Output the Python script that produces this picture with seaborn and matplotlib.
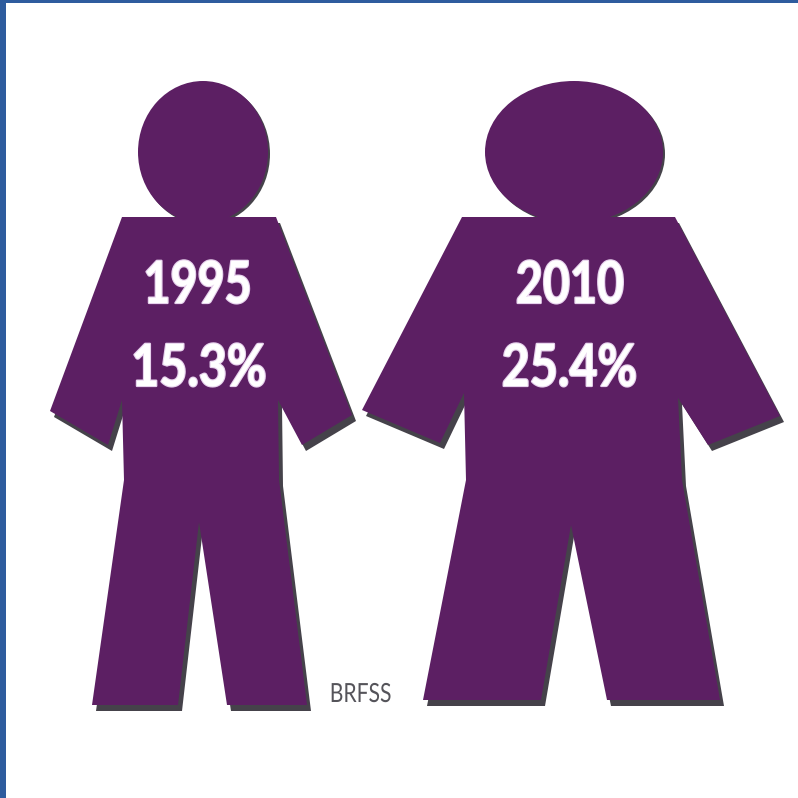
import matplotlib
matplotlib.use("Agg")
import matplotlib.pyplot as plt
import matplotlib.patheffects as pe
from matplotlib.colors import to_rgb
from matplotlib.patches import Ellipse, Rectangle
from matplotlib.transforms import Affine2D
import seaborn as sns

# Share of adults with obesity, by survey year
years = [1995, 2010]
rates = [15.3, 25.4]
source = "BRFSS"

# Silhouette outlines, in canvas pixels
slim_body = [(122, 217), (276, 217), (352, 415), (302, 445), (278, 400), (279, 480),
             (307, 705), (227, 705), (199, 522), (178, 705), (92, 705), (124, 480),
             (122, 400), (108, 445), (50, 411)]
wide_body = [(462, 217), (675, 217), (780, 416), (708, 445), (678, 398), (682, 480),
             (720, 700), (607, 700), (571, 525), (541, 700), (423, 700), (466, 480),
             (464, 393), (440, 443), (362, 410)]
bodies = [slim_body, wide_body]
heads = [(203, 152, 130, 142), (574, 152, 178, 142)]
year_x = [197.5, 570]
rate_x = [199, 569.5]

PURPLE = "#5c1f63"
SHADOW = "#45424a"
BORDER = "#2e5c9e"


class Condensed(pe.AbstractPathEffect):
    """Narrows glyphs horizontally about a pixel column, with an optional outline."""

    def __init__(self, center, squeeze, outline=None, width=0):
        super().__init__()
        self.center, self.squeeze = center, squeeze
        self.outline, self.width = outline, width

    def draw_path(self, renderer, gc, tpath, affine, rgbFace=None):
        narrowed = affine + (Affine2D().translate(-self.center, 0)
                             .scale(self.squeeze, 1).translate(self.center, 0))
        gc0 = renderer.new_gc()
        gc0.copy_properties(gc)
        face = rgbFace
        if self.outline is not None:
            gc0.set_foreground(self.outline)
            gc0.set_linewidth(self.width)
            face = to_rgb(self.outline)
        renderer.draw_path(gc0, tpath, narrowed, face)
        gc0.restore()


sns.set_theme(style="white")
plt.rcParams["font.family"] = ["Lato", "DejaVu Sans"]

fig = plt.figure(figsize=(7.98, 7.98), dpi=100, facecolor="white")
ax = fig.add_axes([0, 0, 1, 1])
ax.set_xlim(0, 798)
ax.set_ylim(798, 0)
ax.axis("off")

# Frame along the top and left edges
ax.add_patch(Rectangle((0, 0), 798, 3, color=BORDER, lw=0))
ax.add_patch(Rectangle((0, 0), 6, 798, color=BORDER, lw=0))


def draw_body(body, dx=0, dy=0, color=PURPLE):
    ax.fill([x + dx for x, _ in body], [y + dy for _, y in body], color=color, lw=0)


def draw_head(head, dx=0, dy=0, color=PURPLE):
    cx, cy, w, h = head
    ax.add_patch(Ellipse((cx + dx, cy + dy), w, h, color=color, lw=0))


# Drop shadows first, silhouettes on top
for body, head in zip(bodies, heads):
    draw_body(body, dx=4, dy=6, color=SHADOW)
    draw_head(head, dx=2, dy=2, color=SHADOW)
for body, head in zip(bodies, heads):
    draw_body(body)
    draw_head(head)


def condensed_label(x, y, text, size, squeeze, color, weight="bold", halo=None):
    center = ax.transData.transform((x, 0))[0]
    effects = [Condensed(center, squeeze)]
    if halo:
        effects.insert(0, Condensed(center, squeeze, outline=halo, width=1.6))
    ax.text(x, y, text, color=color, fontsize=size, fontweight=weight,
            ha="center", va="baseline", path_effects=effects)


for yx, rx, year, rate in zip(year_x, rate_x, years, rates):
    condensed_label(yx, 303, str(year), 42, 0.8, "white", halo="#e6d0ec")
    condensed_label(rx, 386, f"{rate}%", 42, 0.83, "white", halo="#e6d0ec")

condensed_label(360.5, 702, source, 19, 0.8, "#55545a", weight="normal")

fig.savefig("out.png", dpi=100, facecolor="white")
